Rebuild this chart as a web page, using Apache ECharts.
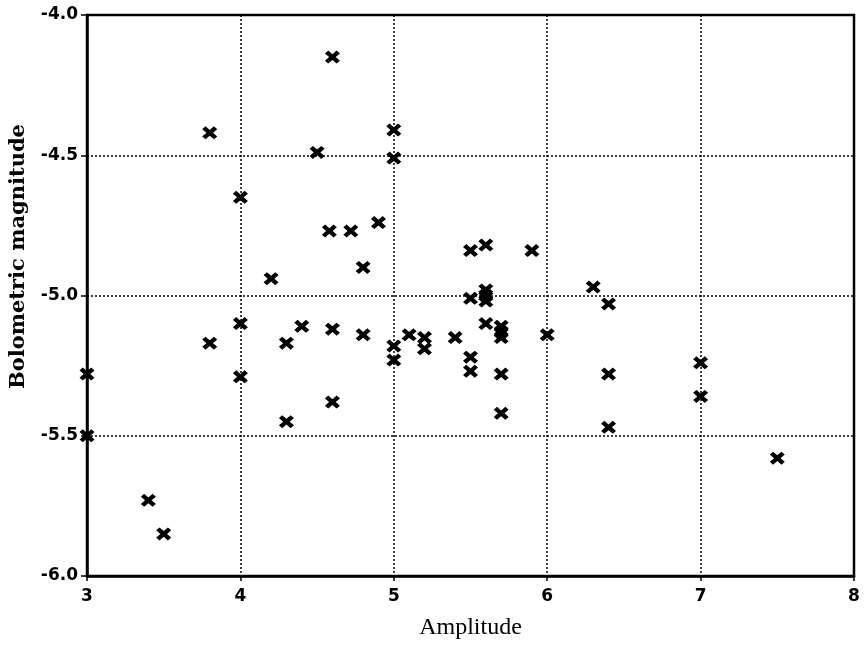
<!DOCTYPE html>
<html>
<head>
<meta charset="utf-8">
<title>Bolometric magnitude vs amplitude</title>
<script src="https://cdn.jsdelivr.net/npm/echarts@6/dist/echarts.min.js"></script>
<style>
  html, body { margin: 0; padding: 0; background: #fff; }
  #chart { width: 866px; height: 653px; }
</style>
</head>
<body>
<div id="chart"></div>
<script>
// Pulsation amplitude of each star and its bolometric magnitude
const amplitude = [
  3.0, 3.0, 3.4, 3.5, 3.8, 3.8, 4.0, 4.0, 4.0, 4.2,
  4.3, 4.3, 4.4, 4.5, 4.6, 4.58, 4.72, 4.6, 4.6, 4.8,
  4.8, 4.9, 5.0, 5.0, 5.0, 5.0, 5.1, 5.2, 5.2, 5.4,
  5.5, 5.5, 5.5, 5.5, 5.6, 5.6, 5.6, 5.6, 5.6, 5.7,
  5.7, 5.7, 5.7, 5.7, 5.9, 6.0, 6.3, 6.4, 6.4, 6.4,
  7.0, 7.0, 7.5
];
const magnitude = [
  -5.28, -5.50, -5.73, -5.85, -4.42, -5.17, -4.65, -5.10, -5.29, -4.94,
  -5.17, -5.45, -5.11, -4.49, -4.15, -4.77, -4.77, -5.12, -5.38, -4.90,
  -5.14, -4.74, -4.41, -4.51, -5.18, -5.23, -5.14, -5.15, -5.19, -5.15,
  -4.84, -5.01, -5.22, -5.27, -4.82, -4.98, -5.00, -5.02, -5.10, -5.11,
  -5.13, -5.15, -5.28, -5.42, -4.84, -5.14, -4.97, -5.03, -5.28, -5.47,
  -5.24, -5.36, -5.58
];
const xTicks = { min: 3, max: 8, step: 1 };
const yTicks = { min: -6, max: -4, step: 0.5 };

const points = amplitude.map((a, i) => [a, magnitude[i]]);

// Heavy "x" marker
const crossMark = 'path://M0,22 L22,0 L50,28 L78,0 L100,22 L72,50 L100,78 L78,100 L50,72 L22,100 L0,78 L28,50 Z';

const tickFont = {
  color: '#000',
  fontFamily: '"DejaVu Sans", sans-serif',
  fontWeight: 'bold',
  fontSize: 17
};
const gridLine = { show: true, lineStyle: { color: '#000', width: 1.5, type: [2, 2] } };

const chart = echarts.init(document.getElementById('chart'), null, { renderer: 'canvas' });
chart.setOption({
  backgroundColor: '#fff',
  animation: false,
  grid: {
    left: 86, right: 12, top: 15, bottom: 77,
    show: true, borderColor: '#000', borderWidth: 2.5, backgroundColor: 'transparent'
  },
  xAxis: {
    type: 'value',
    min: xTicks.min, max: xTicks.max, interval: xTicks.step,
    name: 'Amplitude',
    nameLocation: 'middle',
    nameGap: 40,
    nameTextStyle: { color: '#000', fontFamily: '"Liberation Serif", serif', fontSize: 24 },
    axisLine: { show: true, lineStyle: { color: '#000', width: 2.5 } },
    axisTick: { show: true, length: 5, lineStyle: { color: '#000', width: 1.5 } },
    axisLabel: Object.assign({ margin: 12 }, tickFont),
    splitLine: gridLine
  },
  yAxis: {
    type: 'value',
    min: yTicks.min, max: yTicks.max, interval: yTicks.step,
    name: 'Bolometric magnitude',
    nameLocation: 'middle',
    nameGap: 58,
    nameTextStyle: {
      color: '#000', fontFamily: '"DejaVu Serif", serif', fontWeight: 'bold', fontSize: 21,
      padding: [0, 0, 0, 78]
    },
    axisLine: { show: true, lineStyle: { color: '#000', width: 2.5 } },
    axisTick: { show: true, length: 6, lineStyle: { color: '#000', width: 1.5 } },
    axisLabel: Object.assign({ margin: 9, formatter: v => v.toFixed(1) }, tickFont),
    splitLine: gridLine
  },
  series: [{
    type: 'scatter',
    data: points,
    symbol: crossMark,
    symbolSize: [15, 13],
    itemStyle: { color: '#000', opacity: 1 },
    clip: false
  }]
});
</script>
</body>
</html>
